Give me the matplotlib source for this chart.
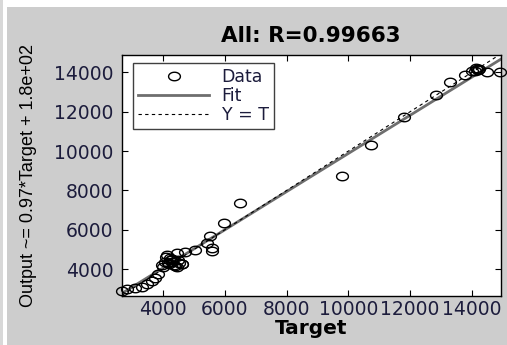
import numpy as np
import matplotlib
matplotlib.use("Agg")
import matplotlib.pyplot as plt
from matplotlib.path import Path
from matplotlib.patches import Rectangle

# targets / network outputs
target = [2655, 2817, 3086, 3303, 3465, 3627, 3734, 3841, 3950,
          4058, 4113, 4220, 4437, 4490, 4600, 4437, 4150, 4000, 4300,
          4350, 4250, 4180, 4520, 4080, 4380, 4280, 4600, 4707, 5030,
          5410, 5517, 5572, 5580, 5980, 6500, 9810, 10720, 11820, 12830,
          13300, 13780, 14000, 14100, 14160, 14220, 14250, 14130, 14486, 14917]
output = [2880, 2966, 3018, 3100, 3220, 3390, 3557, 3730, 4200,
          4372, 4712, 4540, 4120, 4460, 4237, 4800, 4300, 4100, 4350,
          4200, 4450, 4250, 4300, 4600, 4150, 4500, 4250, 4880, 4970,
          5310, 5680, 5053, 4930, 6330, 7370, 8750, 10330, 11760, 12830,
          13530, 13870, 14076, 14100, 14180, 14120, 14200, 14210, 14040, 14010]
slope = 0.97
intercept = 180
r_value = 0.99663
xlim = (2655, 14940)
ylim = (2630, 14890)

navy = '#1c1c3c'

fig = plt.figure(figsize=(5.07, 3.45), dpi=100, facecolor='white')
# grey figure panel like the matlab window
fig.patches.append(Rectangle((7 / 507, 0), 1, 338 / 345, transform=fig.transFigure,
                             facecolor='#cdcdcd', edgecolor='none', zorder=-10))
fig.patches.append(Rectangle((0, 0), 2.5 / 507, 1, transform=fig.transFigure,
                             facecolor='#d8d8d8', edgecolor='none', zorder=-10))

ax = fig.add_axes([121.7 / 507, 49 / 345, 379 / 507, 241 / 345])

# slightly squashed circle marker (picture was stretched sideways)
th = np.linspace(0, 2 * np.pi, 60)
ell = Path(np.column_stack([np.cos(th), 0.72 * np.sin(th)]))

ax.plot(target, output, linestyle='none', marker=ell, markersize=8.5,
        markerfacecolor='none', markeredgecolor='black', markeredgewidth=1,
        label='Data', clip_on=False, zorder=3)
xx = np.array(xlim)
ax.plot(xx, slope * xx + intercept, color='#6e6e6e', linewidth=2, label='Fit', zorder=2)
ax.plot(xx, xx, color='black', linestyle=(0, (3, 3)), linewidth=0.8, label='Y = T', zorder=2)

ax.set_xlim(xlim)
ax.set_ylim(ylim)
ax.set_xticks(np.arange(4000, 14001, 2000))
ax.set_yticks(np.arange(4000, 14001, 2000))
ax.tick_params(direction='in', length=4, top=True, right=True, labelsize=13.5,
               labelcolor=navy, width=0.8)
ax.tick_params(axis='x', pad=3)
ax.tick_params(axis='y', pad=6)
for s in ax.spines.values():
    s.set_linewidth(1)

ax.set_title('All: R=' + str(r_value), fontsize=15.5, fontweight='bold', color='black', pad=9)
ax.set_xlabel('Target', fontsize=14.5, fontweight='bold', labelpad=0)
ax.set_ylabel('Output ~= %.2g*Target + %.2g' % (slope, intercept), fontsize=13,
              family=['Liberation Sans', 'DejaVu Sans'], labelpad=12)

leg = ax.legend(loc='upper left', bbox_to_anchor=(0.03, 0.967), fontsize=12.5,
                fancybox=False, framealpha=1, edgecolor='#404040', borderaxespad=0,
                handlelength=4.1, borderpad=0.3, labelspacing=0.05, handletextpad=0.7)
leg.get_frame().set_linewidth(1)
for t in leg.get_texts():
    t.set_color(navy)

fig.savefig('out.png', dpi=100, facecolor=fig.get_facecolor())
